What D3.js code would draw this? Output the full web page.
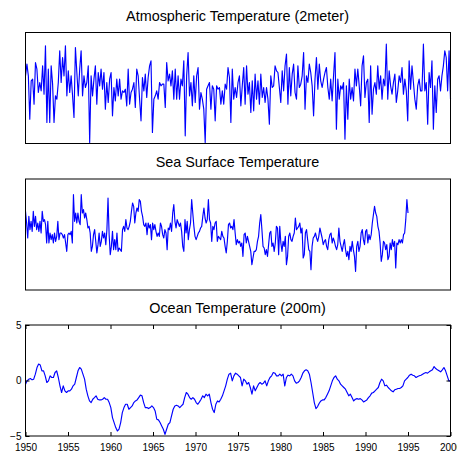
<!DOCTYPE html>
<html>
<head>
<meta charset="utf-8">
<script src="https://cdn.jsdelivr.net/npm/d3@7"></script>
<style>
  body { margin: 0; background: #fff; }
  text { font-family: "Liberation Sans", Arial, Helvetica, sans-serif; }
</style>
</head>
<body>
<div id="chart"></div>
<script>
// anomalies, evenly spaced over each span
var atmSpan = [1950, 2000];
var atmTemp = [
  0.37,0.72,0.37,-0.93,0.22,0.27,-0.48,0.77,0.57,-0.13,0.17,-0.08,0.67,-0.18,1.27,-1.03,0.57,-1.03,0.67,0.12,
  -1.03,-0.23,-0.33,0.17,1.12,0.17,0.92,0.37,1.27,-0.23,0.52,-0.13,0.37,-0.23,-0.88,1.22,0.47,-0.23,0.57,1.12,
  -0.23,0.37,0.02,0.17,0.67,-1.63,0.37,-0.23,0.27,0.67,-0.48,0.47,0.07,0.57,-0.03,0.47,-0.63,0.17,-0.43,0.27,
  0.47,-0.83,0.02,-0.38,0.27,-0.23,0.27,-0.33,-0.08,-0.13,-0.03,-0.53,0.57,-0.48,-0.13,-0.03,0.17,-0.58,0.57,0.37,
  -0.33,-0.98,0.32,-0.08,0.42,-0.28,0.32,0.67,0.82,-1.33,-0.33,-0.23,-0.08,-0.33,0.17,0.07,0.12,
  0.12,-0.58,0.77,0.22,0.42,0.07,0.52,-0.33,0.57,-0.33,0.37,-0.33,0.27,0.07,0.82,-1.43,0.37,1.07,-0.23,0.17,
  -0.53,0.37,-0.43,0.37,0.62,-0.63,-0.13,-0.33,-0.63,-1.63,-0.03,0.07,0.17,-0.63,0.07,-0.03,-0.98,0.07,-0.03,0.02,
  -0.48,-0.08,-0.48,0.12,-0.03,0.62,0.32,-1.03,0.57,-0.33,0.02,-0.28,0.17,0.37,-0.53,0.07,0.62,-0.48,0.67,-0.18,
  0.17,-0.73,0.22,-0.68,0.42,-0.33,0.22,-0.48,0.42,-0.28,0.02,-0.43,0.02,-0.33,-1.08,0.37,0.02,0.07,0.67,0.52,
  0.47,0.02,-0.43,0.52,-0.08,0.67,1.02,-0.48,0.62,-0.23,0.42,0.72,-0.13,-0.33,0.67,0.02,0.12,0.37,1.07,-0.63,
  0.37,0.17,0.72,
  0.47,0.07,-0.83,0.27,0.92,-0.03,0.72,0.22,0.02,0.27,0.47,0.62,0.02,-0.33,0.27,-0.38,0.37,1.07,-1.23,0.27,
  -0.33,0.07,-0.03,0.17,-1.53,0.07,-0.93,0.27,-0.33,0.02,-0.38,0.57,0.07,0.57,0.07,-0.53,0.67,0.97,-0.28,0.17,
  0.27,-1.03,0.67,-0.78,-0.03,0.17,-0.18,0.67,-0.03,0.37,-0.33,0.27,0.07,1.32,-0.33,0.52,0.07,-0.18,0.17,0.42,
  -0.43,-0.08,0.37,0.17,0.62,-0.18,0.27,-0.08,-0.98,0.82,-0.03,0.67,0.17,-0.33,-0.63,0.07,0.27,-0.08,-0.08,1.32,
  -0.08,0.17,-1.08,0.47,0.02,0.82,-1.23,0.07,-0.73,0.27,0.37,-0.08,0.37,0.67,1.12,0.92,-0.08,1.12,-0.33
];

var sstSpan = [1950, 1995];
var seaSurfTemp = [
  0.72,0.37,-0.08,0.57,0.17,0.42,0.12,0.72,0.27,0.57,0.17,0.37,0.12,0.42,0.07,0.72,0.42,0.47,0.32,-0.23,
  0.42,-0.23,0.07,-0.13,0.02,-0.23,0.07,-0.18,-0.03,0.42,-0.13,0.07,0.07,0.02,-0.08,0.02,-0.23,-0.48,0.02,0.07,
  0.02,0.12,-0.23,1.22,0.42,0.67,0.37,0.67,0.42,0.32,1.22,0.67,0.77,0.52,0.67,0.47,0.22,0.27,0.07,-0.48,
  -0.33,0.02,0.17,-0.18,-0.53,-0.28,0.07,-0.33,-0.18,0.12,-0.08,0.07,-0.28,0.17,1.12,0.02,-0.58,-0.33,0.12,-0.43,
  -0.13,-0.43,0.07,-0.48,-0.38,-0.43,-0.48,0.17,0.27,0.12,0.47,0.22,0.17,0.27,0.42,0.72,0.97,0.87,0.37,0.67,
  0.82,0.72,1.07,1.02,0.72,0.57,0.32,0.27,0.37,0.02,0.37,0.22,0.32,-0.13,0.37,0.17,0.32,0.12,-0.03,0.07,
  -0.03,0.37,0.27,0.02,-0.08,0.17,0.07,-0.43,0.22,0.17,0.37,0.12,0.67,0.92,0.42,0.22,0.47,0.37,0.27,0.37,
  0.12,-0.33,-0.48,0.47,0.07,0.42,-0.13,0.17,0.37,1.07,0.67,0.27,-0.03,-0.13,-0.03,0.07,0.12,0.22,0.27,0.57,
  0.82,0.52,0.37,0.47,1.07,0.47,0.37,-0.18,0.27,0.17,0.37,0.42,-0.18,-0.03,-0.08,-0.13,0.12,-0.03,-0.08,
  -0.33,-0.53,-0.18,0.32,0.37,0.22,0.27,0.17,0.47,0.07,-0.28,-0.13,-0.23,-0.18,-0.33,-0.23,-0.63,0.02,0.07,-0.23,
  -0.03,-0.18,-0.33,-0.48,-0.88,-0.68,-0.48,-0.48,-0.43,-0.18,-0.03,0.37,0.62,0.17,-0.33,-0.38,-0.58,-0.43,-0.63,-0.28,
  0.07,0.12,-0.33,-0.23,-0.48,-0.23,0.27,0.22,-0.58,0.27,-0.23,-0.48,-0.18,-0.33,-0.03,-0.88,-0.63,-0.03,0.07,-0.13,
  -0.18,-0.03,0.07,0.52,0.17,0.22,0.27,0.37,0.07,0.22,-0.68,-0.58,0.07,0.17,-0.13,-0.43,-0.48,-1.03,-0.33,-0.08,
  -0.03,0.07,-0.08,-0.18,-0.03,0.22,0.07,-0.08,-0.28,-0.18,-0.13,-0.33,-0.43,-0.13,0.02,0.07,-0.23,-0.08,-0.18,-0.33,
  -0.43,-0.28,0.22,-0.18,-0.33,-0.48,-0.28,-0.13,-0.43,-0.63,-0.48,-0.73,-0.33,-0.48,-0.18,-0.43,-0.63,-1.08,-0.33,-0.18,
  -0.48,-0.33,0.07,0.17,-0.13,-0.28,0.12,0.17,-0.23,0.02,-0.13,0.02,0.37,0.62,0.87,0.67,0.57,0.27,0.12,-0.23,
  -0.78,-0.58,-0.18,-0.23,-0.43,-0.28,-0.73,-0.63,-0.23,-0.43,-0.13,-0.33,-0.18,-0.98,-0.23,-0.28,-0.13,-0.23,-0.13,-0.23,
  0.02,0.07,0.47,1.07,0.67
];

var oceanSpan = [1950, 2000];
var oceanTemp200 = [
  -0.33,-0.03,0.12,0.18,0.06,0.12,0.57,1.17,1.48,1.39,0.87,0.87,0.42,-0.18,-0.03,0.42,0.27,0.27,0.72,0.87,
  0.27,-0.48,-1.08,-0.48,-0.93,-1.08,-0.93,-0.93,-0.78,-0.48,-0.33,0.27,0.87,1.17,1.02,0.57,0.12,-0.78,-1.38,-1.84,
  -1.99,-1.69,-1.54,-1.38,-1.69,-1.75,-1.75,-1.69,-1.54,-1.69,-1.69,-1.99,-2.44,-3.34,-3.79,-4.24,-4.55,-4.39,-3.79,-2.89,
  -2.44,-2.14,-2.14,-2.59,-2.44,-2.29,-1.99,-1.84,-1.75,-1.54,-1.32,-1.38,-1.99,-2.44,-2.44,-2.53,-2.44,-2.29,-2.44,-2.74,
  -3.49,-3.55,-3.79,-4.09,-4.39,-4.85,-4.39,-3.94,-3.79,-3.19,-2.59,-2.29,-2.23,-2.29,-2.44,-2.29,-2.14,-1.54,-1.08,-1.23,
  -1.54,-1.69,-1.54,-1.69,-1.99,-2.14,-1.93,-1.69,-1.38,-1.54,-1.23,-1.38,-1.23,-1.99,-2.59,-2.89,-2.14,-1.84,-1.93,-1.69,
  -1.38,-0.93,-0.48,0.12,0.57,0.66,
  -0.03,0.42,0.66,0.57,0.42,0.27,-0.48,0.12,-0.03,-0.33,-0.18,-0.63,-1.23,-0.48,-0.93,-0.63,-0.33,-0.18,-0.33,-0.24,
  -0.03,-0.48,-0.03,0.27,0.42,0.72,0.66,0.42,0.42,0.57,0.42,0.57,-0.48,0.27,0.48,0.42,0.57,0.42,-0.03,-0.24,
  -0.18,-0.03,0.27,0.66,0.87,0.96,0.87,0.57,-0.18,-1.08,-1.99,-2.53,-2.35,-2.05,-1.84,-1.75,-1.75,-1.54,-1.23,-0.93,
  -0.48,-0.03,0.27,0.42,0.12,-0.03,-0.33,-0.48,-0.63,-0.78,-1.08,-1.38,-1.23,-1.54,-1.84,-1.69,-1.63,-1.69,-1.63,-1.75,
  -1.93,-1.84,-1.75,-1.54,-1.38,-1.14,-1.08,-0.93,-0.78,-0.63,-0.18,0.12,-0.03,-0.48,-0.42,-0.63,-0.78,-0.93,-1.02,-0.84,
  -0.78,-0.72,-0.72,-0.63,-0.48,-0.03,0.12,0.27,0.48,0.57,0.48,0.42,0.27,0.36,0.42,0.48,0.57,0.66,0.72,0.66,
  0.78,0.87,0.96,1.26,1.08,0.96,0.87,0.78,0.96,1.17,0.87,0.42,-0.03,-0.03
];

var yearTicks = [1950, 1955, 1960, 1965, 1970, 1975, 1980, 1985, 1990, 1995, 2000];
var oceanYTicks = [-5, 0, 5];

var panels = [
  {title: "Atmospheric Temperature (2meter)", values: atmTemp, span: atmSpan, yDomain: [-1.66, 1.67], top: 32, axes: false},
  {title: "Sea Surface Temperature", values: seaSurfTemp, span: sstSpan, yDomain: [-1.64, 1.69], top: 178.5, axes: false},
  {title: "Ocean Temperature (200m)", values: oceanTemp200, span: oceanSpan, yDomain: [-5, 5], top: 324.5, axes: true}
];

var W = 457, H = 452;
var left = 25, plotW = 425, plotH = 111;

var svg = d3.select("#chart").append("svg")
    .attr("width", W)
    .attr("height", H);

var x = d3.scaleLinear().domain([1950, 2000]).range([0, plotW]);

panels.forEach(function(p) {
  var g = svg.append("g")
      .attr("transform", "translate(" + (left + 0.5) + "," + (p.top + 0.5) + ")");

  var y = d3.scaleLinear().domain(p.yDomain).range([plotH, 0]);

  var n = p.values.length;
  var pts = p.values.map(function(v, i) {
    return {year: p.span[0] + i * (p.span[1] - p.span[0]) / (n - 1), value: v};
  });

  var line = d3.line()
      .x(function(d) { return x(d.year); })
      .y(function(d) { return y(d.value); });

  g.append("path")
      .datum(pts)
      .attr("fill", "none")
      .attr("stroke", "#0000ff")
      .attr("stroke-width", 1.15)
      .attr("stroke-linejoin", "round")
      .attr("d", line);

  if (p.axes) {
    g.append("g")
        .attr("transform", "translate(0," + plotH + ")")
        .call(d3.axisBottom(x).tickValues(yearTicks).tickFormat(d3.format("d"))
          .tickSizeInner(-4).tickSizeOuter(0).tickPadding(8));
    g.append("g")
        .call(d3.axisTop(x).tickValues(yearTicks).tickFormat("")
          .tickSizeInner(-4).tickSizeOuter(0));
    g.append("g")
        .call(d3.axisLeft(y).tickValues(oceanYTicks)
          .tickSizeInner(-4).tickSizeOuter(0).tickPadding(4));
    g.append("g")
        .attr("transform", "translate(" + plotW + ",0)")
        .call(d3.axisRight(y).tickValues(oceanYTicks).tickFormat("")
          .tickSizeInner(-4).tickSizeOuter(0));

    g.selectAll(".domain").remove();
    g.selectAll(".tick line").attr("stroke", "#000");
    g.selectAll(".tick text")
        .attr("fill", "#000")
        .attr("font-size", "10px")
        .style("font-family", "'Liberation Sans', Arial, sans-serif");
  }

  // box around the axes
  g.append("rect")
      .attr("x", 0)
      .attr("y", 0)
      .attr("width", plotW)
      .attr("height", plotH)
      .attr("fill", "none")
      .attr("stroke", "#000")
      .attr("stroke-width", 1);

  svg.append("text")
      .attr("x", left + plotW / 2)
      .attr("y", p.top - 11.5)
      .attr("text-anchor", "middle")
      .attr("font-size", "14.4px")
      .attr("fill", "#000")
      .text(p.title);
});
</script>
</body>
</html>
